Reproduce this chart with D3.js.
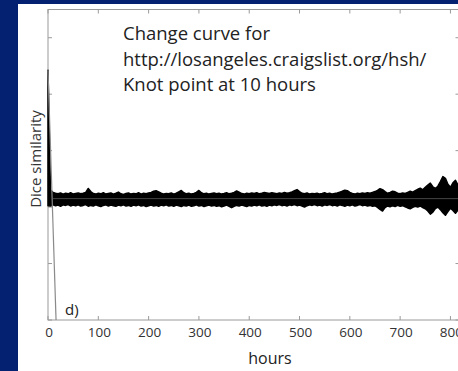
<!DOCTYPE html>
<html>
<head>
<meta charset="utf-8">
<script src="https://cdn.jsdelivr.net/npm/d3@7"></script>
<style>
  html, body { margin: 0; padding: 0; background: #032170; }
  svg { display: block; }
</style>
</head>
<body>
<div id="chart"></div>
<script>
// sampled every 5 hours, 0..820
const hours = d3.range(0, 825, 5);

// upper edge of the noisy change curve
const upperVals = [
  0.885, 0.460, 0.452, 0.449, 0.447, 0.450, 0.446, 0.449, 0.447, 0.451,
  0.446, 0.448, 0.450, 0.447, 0.449, 0.452, 0.466, 0.455, 0.448, 0.446,
  0.449, 0.447, 0.451, 0.446, 0.448, 0.450, 0.446, 0.449, 0.453, 0.447,
  0.445, 0.448, 0.450, 0.446, 0.448, 0.447, 0.451, 0.446, 0.449, 0.447,
  0.450, 0.452, 0.456, 0.458, 0.454, 0.449, 0.446, 0.448, 0.447, 0.450,
  0.446, 0.449, 0.454, 0.459, 0.451, 0.447, 0.449, 0.446, 0.448, 0.452,
  0.459, 0.451, 0.447, 0.449, 0.446, 0.448, 0.450, 0.447, 0.449, 0.446,
  0.448, 0.451, 0.447, 0.449, 0.452, 0.457, 0.453, 0.448, 0.446, 0.449,
  0.447, 0.450, 0.448, 0.451, 0.447, 0.449, 0.452, 0.450, 0.448, 0.451,
  0.449, 0.447, 0.450, 0.448, 0.452, 0.449, 0.451, 0.454, 0.458, 0.462,
  0.455, 0.449, 0.447, 0.450, 0.446, 0.448, 0.447, 0.449, 0.446, 0.448,
  0.451, 0.447, 0.449, 0.446, 0.448, 0.450, 0.453, 0.456, 0.460, 0.458,
  0.452, 0.448, 0.446, 0.449, 0.447, 0.450, 0.448, 0.451, 0.449, 0.452,
  0.455, 0.459, 0.465, 0.462, 0.455, 0.449, 0.452, 0.456, 0.454, 0.449,
  0.447, 0.450, 0.448, 0.452, 0.456, 0.453, 0.458, 0.463, 0.467, 0.461,
  0.470, 0.478, 0.485, 0.472, 0.466, 0.474, 0.490, 0.508, 0.502, 0.481,
  0.470, 0.486, 0.495, 0.478, 0.470
];

// lower edge of the noisy change curve
const lowerVals = [
  0.405, 0.404, 0.408, 0.405, 0.407, 0.403, 0.408, 0.406, 0.409, 0.404,
  0.407, 0.405, 0.408, 0.404, 0.406, 0.409, 0.403, 0.406, 0.404, 0.408,
  0.405, 0.402, 0.406, 0.408, 0.404, 0.407, 0.405, 0.403, 0.407, 0.405,
  0.408, 0.404, 0.406, 0.403, 0.407, 0.405, 0.408, 0.404, 0.406, 0.402,
  0.405, 0.407, 0.404, 0.406, 0.403, 0.407, 0.405, 0.408, 0.404, 0.406,
  0.403, 0.407, 0.405, 0.402, 0.406, 0.404, 0.407, 0.403, 0.405, 0.408,
  0.404, 0.406, 0.402, 0.405, 0.407, 0.404, 0.406, 0.403, 0.405, 0.401,
  0.404, 0.407, 0.403, 0.398, 0.403, 0.406, 0.404, 0.407, 0.405, 0.402,
  0.406, 0.404, 0.407, 0.405, 0.408, 0.404, 0.406, 0.403, 0.407, 0.405,
  0.408, 0.406, 0.409, 0.405, 0.407, 0.404, 0.408, 0.406, 0.409, 0.405,
  0.407, 0.404, 0.400, 0.405, 0.408, 0.406, 0.409, 0.405, 0.407, 0.404,
  0.408, 0.406, 0.409, 0.405, 0.407, 0.404, 0.408, 0.406, 0.403, 0.407,
  0.405, 0.408, 0.404, 0.406, 0.409, 0.405, 0.407, 0.404, 0.406, 0.403,
  0.405, 0.399, 0.392, 0.386, 0.398, 0.404, 0.401, 0.405, 0.402, 0.406,
  0.403, 0.405, 0.401, 0.397, 0.394, 0.399, 0.403, 0.400, 0.404, 0.398,
  0.394, 0.386, 0.375, 0.382, 0.395, 0.400, 0.391, 0.380, 0.371, 0.384,
  0.396, 0.388, 0.378, 0.390, 0.395
];

// fitted curve (knot at 10 hours)
const fitDropHours = [0, 16];
const fitDropVals = [0.885, 0];
const fitFlatHours = [10, 820];
const fitFlatVals = [0.43, 0.43];

const xTicks = [0, 100, 200, 300, 400, 500, 600, 700, 800];
const yTicks = [0, 0.2, 0.4, 0.6, 0.8, 1.0];

const titleLines = [
  'Change curve for',
  'http://losangeles.craigslist.org/hsh/',
  'Knot point at 10 hours'
];

const W = 458, H = 371;
const plot = { left: 48, right: 460.5, top: 9.5, bottom: 320 };
const frameColor = '#9a9a9a';
const font = '"Open Sans", "DejaVu Sans", sans-serif';

const svg = d3.select('#chart').append('svg')
  .attr('width', W)
  .attr('height', H);

// white panel on the blue slide
svg.append('rect')
  .attr('x', 18).attr('y', 4)
  .attr('width', W - 18).attr('height', H - 4)
  .attr('fill', '#ffffff');

const x = d3.scaleLinear().domain([0, 820]).range([plot.left, plot.right]);
const y = d3.scaleLinear().domain([0, 1.1]).range([plot.bottom, plot.top]);

const g = svg.append('g');

// frame
g.append('rect')
  .attr('x', plot.left).attr('y', plot.top)
  .attr('width', plot.right - plot.left).attr('height', plot.bottom - plot.top)
  .attr('fill', 'none')
  .attr('stroke', frameColor)
  .attr('stroke-width', 1);

// inward ticks on all four sides
const tickLen = 4;
g.selectAll('.xt-b').data(xTicks).enter().append('line')
  .attr('x1', d => x(d)).attr('x2', d => x(d))
  .attr('y1', plot.bottom).attr('y2', plot.bottom - tickLen)
  .attr('stroke', frameColor);
g.selectAll('.xt-t').data(xTicks).enter().append('line')
  .attr('x1', d => x(d)).attr('x2', d => x(d))
  .attr('y1', plot.top).attr('y2', plot.top + tickLen)
  .attr('stroke', frameColor);
g.selectAll('.yt-l').data(yTicks).enter().append('line')
  .attr('x1', plot.left).attr('x2', plot.left + tickLen)
  .attr('y1', d => y(d)).attr('y2', d => y(d))
  .attr('stroke', frameColor);
g.selectAll('.yt-r').data(yTicks).enter().append('line')
  .attr('x1', plot.right - 1).attr('x2', plot.right - 1 - tickLen)
  .attr('y1', d => y(d)).attr('y2', d => y(d))
  .attr('stroke', frameColor);

// x tick labels (the last one runs off the right edge, as in the source)
g.selectAll('.xl').data(xTicks).enter().append('text')
  .attr('x', d => x(d) + 1)
  .attr('y', 337)
  .attr('text-anchor', 'middle')
  .style('font-family', font)
  .style('font-size', '13.5px')
  .style('fill', '#333')
  .text(d => d);

// noisy band
const band = d3.area()
  .x((d, i) => x(hours[i]))
  .y0((d, i) => y(lowerVals[i]))
  .y1((d, i) => y(upperVals[i]));

g.append('path')
  .datum(upperVals)
  .attr('d', band)
  .attr('fill', '#000')
  .attr('stroke', '#000')
  .attr('stroke-width', 1.5)
  .attr('stroke-linejoin', 'round');

// fitted curve in grey
const fitLine = d3.line().x(d => x(d[0])).y(d => y(d[1]));
g.append('path')
  .datum(fitDropHours.map((h, i) => [h, fitDropVals[i]]))
  .attr('d', fitLine)
  .attr('fill', 'none')
  .attr('stroke', '#8a8a8a')
  .attr('stroke-width', 1.2);
g.append('path')
  .datum(fitFlatHours.map((h, i) => [h, fitFlatVals[i]]))
  .attr('d', fitLine)
  .attr('fill', 'none')
  .attr('stroke', '#555')
  .attr('stroke-width', 0.8);

// axis titles
svg.append('text')
  .attr('transform', 'translate(41, 159) rotate(-90)')
  .attr('text-anchor', 'middle')
  .style('font-family', font)
  .style('font-size', '15px')
  .style('fill', '#333')
  .text('Dice similarity');

svg.append('text')
  .attr('x', 270).attr('y', 364)
  .attr('text-anchor', 'middle')
  .style('font-family', font)
  .style('font-size', '16px')
  .style('fill', '#222')
  .text('hours');

// panel label
svg.append('text')
  .attr('x', 65).attr('y', 315)
  .style('font-family', font)
  .style('font-size', '15px')
  .style('fill', '#222')
  .text('d)');

// annotation
svg.selectAll('.title').data(titleLines).enter().append('text')
  .attr('x', 123)
  .attr('y', (d, i) => 40 + i * 25.5)
  .style('font-family', font)
  .style('font-size', '18.5px')
  .style('fill', '#222')
  .text(d => d);
</script>
</body>
</html>
